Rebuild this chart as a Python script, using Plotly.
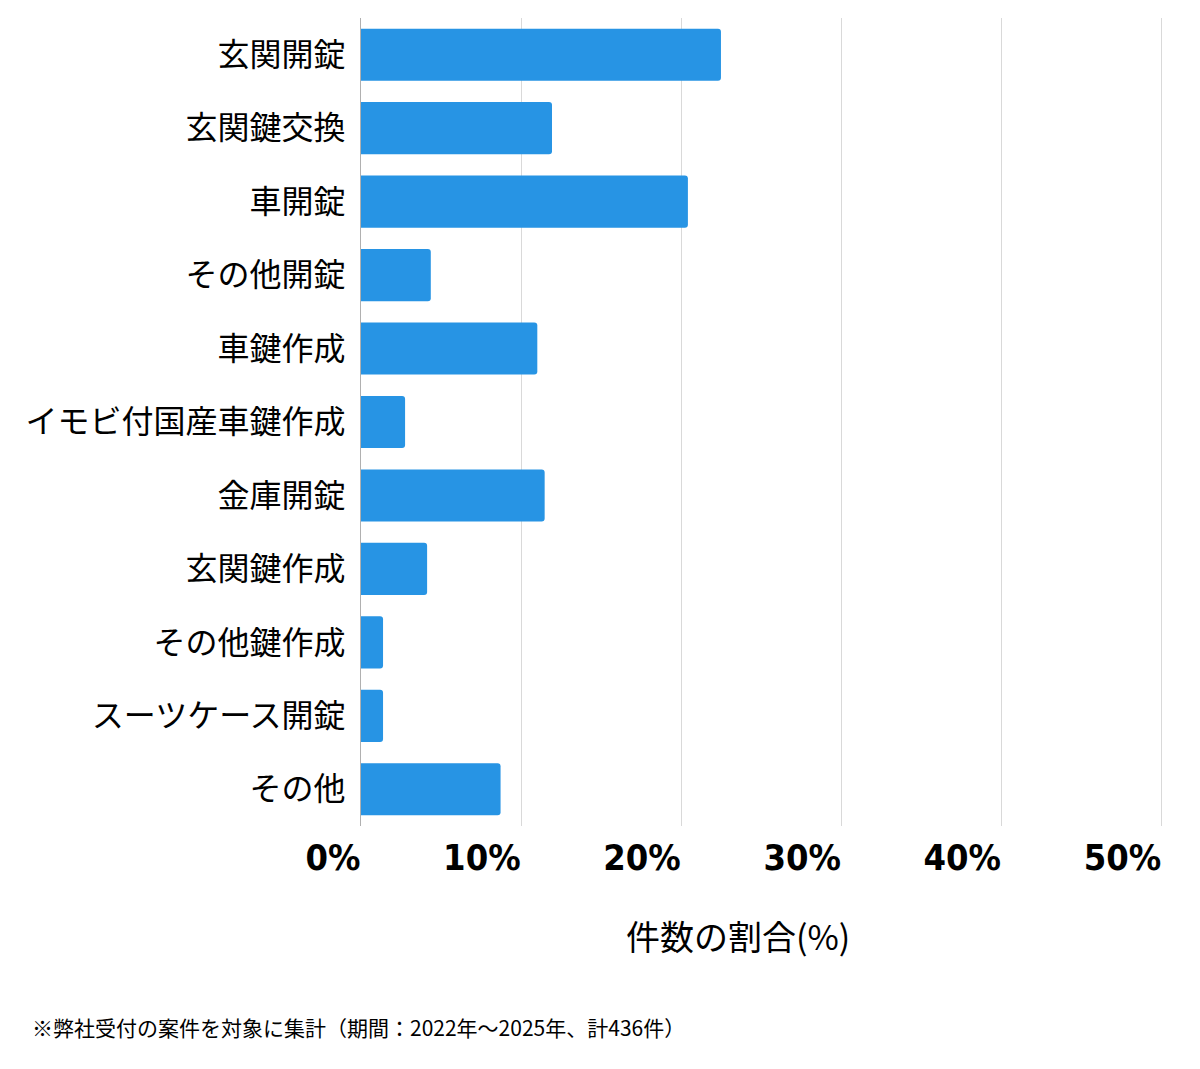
import plotly.graph_objects as go

categories = ["玄関開錠", "玄関鍵交換", "車開錠", "その他開錠", "車鍵作成", "イモビ付国産車鍵作成",
              "金庫開錠", "玄関鍵作成", "その他鍵作成", "スーツケース開錠", "その他"]
counts = [98, 52, 89, 19, 48, 12, 50, 18, 6, 6, 38]
total = 436
percentages = [c / total * 100 for c in counts]
tick_values = [0, 10, 20, 30, 40, 50]
tick_labels = ["0%", "10%", "20%", "30%", "40%", "50%"]

fig = go.Figure(go.Bar(
    y=categories, x=percentages, orientation="h",
    marker=dict(color="#2794E4", line=dict(width=0)),
    hoverinfo="skip",
))

fig.update_layout(
    width=1200, height=1069,
    margin=dict(l=361, r=37, t=18, b=243),
    paper_bgcolor="white", plot_bgcolor="white",
    bargap=0.29, barcornerradius=3,
    showlegend=False,
    font=dict(family="Noto Sans CJK JP", color="#000"),
    annotations=[
        dict(
            text="件数の割合(%)",
            xref="paper", yref="paper", x=(738 - 361) / 802, y=-(935 - 826) / 808,
            xanchor="center", yanchor="middle", showarrow=False,
            font=dict(size=34, family="Noto Sans CJK JP", color="#000"),
        ),
        dict(
            text="※弊社受付の案件を対象に集計（期間：2022年〜2025年、計436件）",
            xref="paper", yref="paper", x=(30 - 361) / 802, y=-(1027 - 826) / 808,
            xanchor="left", yanchor="middle", showarrow=False,
            font=dict(size=21, family="Noto Sans CJK JP", color="#000"),
        ),
    ],
)

fig.update_xaxes(
    range=[0, 50.08], tickvals=tick_values, ticktext=tick_labels,
    showgrid=True, gridcolor="#d9d9d9", gridwidth=1,
    zeroline=False, showline=False,
    ticklabelposition="outside left",
    ticks="outside", ticklen=23, tickcolor="rgba(0,0,0,0)",
    tickfont=dict(size=36, family="DejaVu Sans Condensed, Liberation Sans Narrow, Noto Sans", weight="bold", color="#000"),
    fixedrange=True,
)
fig.update_yaxes(
    autorange="reversed", showline=True, linecolor="#b0b0b0", linewidth=1,
    ticks="outside", ticklen=8, tickcolor="rgba(0,0,0,0)",
    tickfont=dict(size=32, family="Noto Sans CJK JP", color="#000"),
    fixedrange=True,
)

fig.write_html("out.html")
